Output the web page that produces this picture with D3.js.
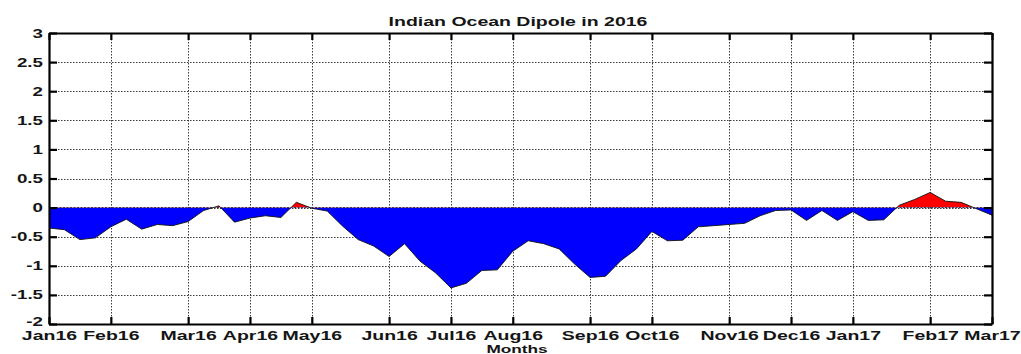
<!DOCTYPE html>
<html>
<head>
<meta charset="utf-8">
<script src="https://cdn.jsdelivr.net/npm/d3@7"></script>
<style>
  body { margin: 0; background: #fff; }
  svg text { font-family: "Liberation Sans", Arial, sans-serif; font-weight: bold; fill: #151515; }
</style>
</head>
<body>
<svg id="chart" width="1021" height="354"></svg>
<script>
// ---- data (weekly IOD index, week 0 = Jan16) ----
const iodValues = [
  -0.35, -0.38, -0.55, -0.52, -0.33, -0.20, -0.37, -0.29, -0.31, -0.24,
  -0.05,  0.03, -0.25, -0.18, -0.14, -0.17,  0.09, -0.01, -0.06, -0.32,
  -0.55, -0.66, -0.84, -0.62, -0.92, -1.12, -1.38, -1.30, -1.08, -1.07,
  -0.75, -0.57, -0.62, -0.71, -0.97, -1.20, -1.18, -0.91, -0.71, -0.41,
  -0.57, -0.56, -0.33, -0.31, -0.29, -0.27, -0.14, -0.05, -0.04, -0.22,
  -0.05, -0.22, -0.07, -0.22, -0.21,  0.04,  0.14,  0.26,  0.11,  0.09,
  -0.02, -0.13
];
const monthTickWeeks  = [0, 4, 9, 13, 17, 22, 26, 30, 35, 39, 44, 48, 52, 57, 61];
const monthTickLabels = ["Jan16","Feb16","Mar16","Apr16","May16","Jun16","Jul16","Aug16",
                         "Sep16","Oct16","Nov16","Dec16","Jan17","Feb17","Mar17"];
const yTickValues = [-2, -1.5, -1, -0.5, 0, 0.5, 1, 1.5, 2, 2.5, 3];
const titleText  = "Indian Ocean Dipole in 2016";
const xLabelText = "Months";

// ---- layout ----
const L = 49, R = 992, T = 33, B = 324;
const SX = 1.5; // horizontal text stretch seen in the reference

const svg = d3.select("#chart");
const x = d3.scaleLinear().domain([0, iodValues.length - 1]).range([L, R]);
const y = d3.scaleLinear().domain([-2, 3]).range([B, T]);

// grid
const grid = svg.append("g")
  .attr("stroke", "#3a3a3a").attr("stroke-width", 1).attr("stroke-dasharray", "1.5,1.5");
grid.selectAll("line.h").data(yTickValues.filter(v => v > -2 && v < 3)).join("line")
  .attr("class", "h")
  .attr("x1", L).attr("x2", R)
  .attr("y1", d => Math.round(y(d)) + 0.5).attr("y2", d => Math.round(y(d)) + 0.5);
grid.selectAll("line.v").data(monthTickWeeks.filter((w, i) => i > 0 && i < monthTickWeeks.length - 1)).join("line")
  .attr("class", "v")
  .attr("y1", T).attr("y2", B)
  .attr("x1", d => Math.round(x(d)) + 0.5).attr("x2", d => Math.round(x(d)) + 0.5);

// areas
const pts = iodValues.map((v, i) => ({ i, v }));
const area = d3.area().x(d => x(d.i)).y0(y(0)).y1(d => y(d.v));
const line = d3.line().x(d => x(d.i)).y(d => y(d.v));
const defs = svg.append("defs");
defs.append("clipPath").attr("id", "pos").append("rect")
  .attr("x", L).attr("y", T).attr("width", R - L).attr("height", y(0) - T);
defs.append("clipPath").attr("id", "neg").append("rect")
  .attr("x", L).attr("y", y(0)).attr("width", R - L).attr("height", B - y(0));

svg.append("path").datum(pts).attr("d", area).attr("fill", "#ff0000").attr("clip-path", "url(#pos)");
svg.append("path").datum(pts).attr("d", area).attr("fill", "#0000ff").attr("clip-path", "url(#neg)");
svg.append("path").datum(pts).attr("d", line).attr("fill", "none").attr("stroke", "#111").attr("stroke-width", 0.9);
svg.append("line").attr("x1", L).attr("x2", R).attr("y1", y(0)).attr("y2", y(0))
  .attr("stroke", "#333").attr("stroke-width", 1).attr("stroke-dasharray", "2,1.5");

// axes
function styleAxis(g) {
  g.select(".domain").attr("stroke", "#000").attr("stroke-width", 2.2);
  g.selectAll(".tick line").attr("stroke", "#000").attr("stroke-width", 2.2);
}
const gl = svg.append("g").attr("transform", `translate(${L},0)`)
  .call(d3.axisLeft(y).tickValues(yTickValues).tickFormat(d => String(d))
    .tickSizeInner(-8).tickSizeOuter(0).tickPadding(4));
styleAxis(gl);
gl.selectAll(".tick text").attr("font-size", 12.5).attr("transform", `scale(${SX},1)`)
  .attr("dy", d => d === -2 ? "0.12em" : "0.32em");

const gr = svg.append("g").attr("transform", `translate(${R},0)`)
  .call(d3.axisRight(y).tickValues(yTickValues).tickFormat("").tickSizeInner(-8).tickSizeOuter(0));
styleAxis(gr);

const gb = svg.append("g").attr("transform", `translate(0,${B})`)
  .call(d3.axisBottom(x).tickValues(monthTickWeeks).tickFormat((d, i) => monthTickLabels[i])
    .tickSizeInner(-7).tickSizeOuter(0).tickPadding(6.5));
styleAxis(gb);
gb.selectAll(".tick text").attr("font-size", 13).attr("transform", `scale(${SX},1)`);

const gt = svg.append("g").attr("transform", `translate(0,${T})`)
  .call(d3.axisTop(x).tickValues(monthTickWeeks).tickFormat("").tickSizeInner(-7).tickSizeOuter(0));
styleAxis(gt);

// labels
svg.append("text").attr("transform", `translate(518,26) scale(${SX},1)`)
  .attr("text-anchor", "middle").attr("font-size", 13).text(titleText);
svg.append("text").attr("transform", `translate(517,353) scale(${SX},1)`)
  .attr("text-anchor", "middle").attr("font-size", 11.5).text(xLabelText);
</script>
</body>
</html>
